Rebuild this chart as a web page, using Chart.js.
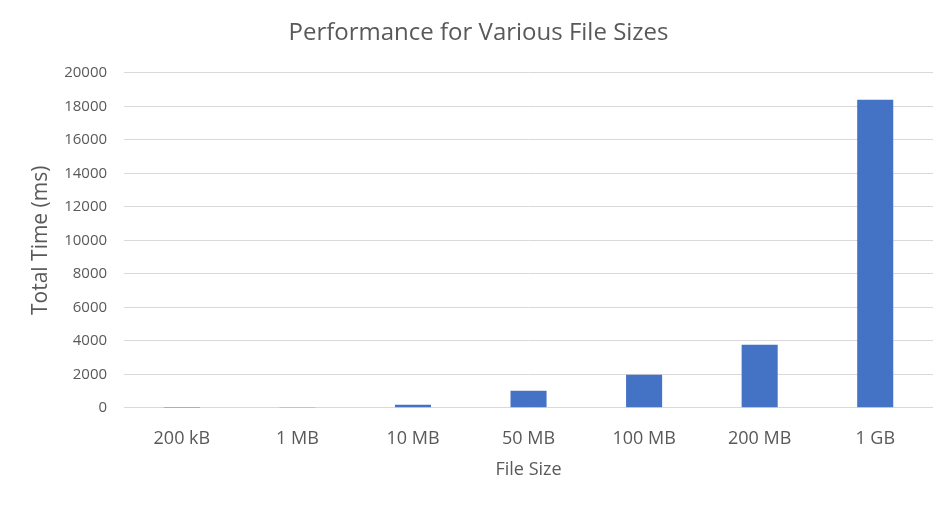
<!DOCTYPE html>
<html>
<head>
<meta charset="utf-8">
<script src="https://cdn.jsdelivr.net/npm/chart.js@4"></script>
<style>
  html, body { margin: 0; padding: 0; background: #fff; }
  #wrap { width: 948px; height: 506px; }
</style>
</head>
<body>
<div id="wrap"><canvas id="perfChart"></canvas></div>
<script>
// file sizes on the x axis, total time in ms
const fileSizes = ['200 kB', '1 MB', '10 MB', '50 MB', '100 MB', '200 MB', '1 GB'];
const totalTimes = [2, 12, 180, 1015, 1975, 3760, 18390];
const yTicks = [0, 2000, 4000, 6000, 8000, 10000, 12000, 14000, 16000, 18000, 20000];

const gray = '#595959';
const fontFamily = '"Open Sans", sans-serif';

const perfChart = new Chart(document.getElementById('perfChart'), {
    type: 'bar',
    data: {
        labels: fileSizes,
        datasets: [{
            data: totalTimes,
            backgroundColor: '#4472c4',
            categoryPercentage: 1,
            barPercentage: 0.312,
        }]
    },
    options: {
        responsive: true,
        maintainAspectRatio: false,
        animation: false,
        layout: {
            padding: { left: 24, right: 15, top: 14, bottom: 25 }
        },
        plugins: {
            legend: { display: false },
            tooltip: { enabled: false },
            title: {
                display: true,
                text: 'Performance for Various File Sizes',
                color: gray,
                font: { family: fontFamily, size: 24, weight: 'normal' },
                padding: { top: 5, bottom: 25 }
            }
        },
        scales: {
            x: {
                grid: { display: false, drawTicks: false },
                border: { display: false },
                ticks: {
                    color: gray,
                    font: { family: fontFamily, size: 18 },
                    padding: 20
                },
                title: {
                    display: true,
                    text: 'File Size',
                    color: gray,
                    font: { family: fontFamily, size: 18 },
                    padding: { top: -10, bottom: 0 }
                }
            },
            y: {
                min: 0,
                max: 20000,
                afterBuildTicks: (axis) => {
                    axis.ticks = yTicks.map(v => ({ value: v }));
                },
                grid: { color: '#d9d9d9', lineWidth: 1, drawTicks: false },
                border: { display: false },
                ticks: {
                    color: gray,
                    font: { family: fontFamily, size: 15 },
                    padding: 17,
                    callback: (v) => String(v)
                },
                title: {
                    display: true,
                    text: 'Total Time (ms)',
                    color: gray,
                    font: { family: fontFamily, size: 21 },
                    padding: { top: 4, bottom: -6 }
                }
            }
        }
    }
});
</script>
</body>
</html>
